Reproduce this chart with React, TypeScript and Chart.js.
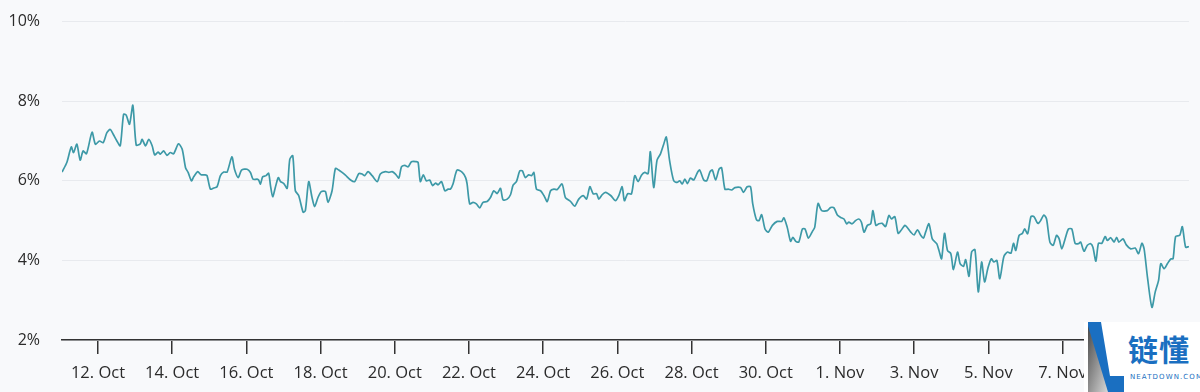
import React, { useEffect, useRef } from "react";
import { Chart, registerables } from "chart.js";

Chart.register(...registerables);

// x values: days since 11 Oct 00:00
const dayOffsets: number[] = [
  0.03, 0.16, 0.28, 0.34, 0.43, 0.52, 0.6, 0.69, 0.84, 0.93, 1.04, 1.14, 1.24, 1.33, 1.41, 1.51, 1.6, 1.69, 1.76, 1.85,
  1.94, 2.03, 2.14, 2.19, 2.28, 2.37, 2.46, 2.53, 2.62, 2.68, 2.77, 2.86, 2.95, 3.04, 3.17, 3.27, 3.36, 3.43, 3.52, 3.58,
  3.69, 3.78, 3.89, 3.94, 4.03, 4.12, 4.21, 4.3, 4.39, 4.48, 4.61, 4.68, 4.78, 4.87, 5.02, 5.11, 5.18, 5.29, 5.33, 5.38,
  5.44, 5.53, 5.6, 5.65, 5.71, 5.78, 5.86, 5.92, 6.01, 6.1, 6.17, 6.25, 6.32, 6.41, 6.53, 6.59, 6.68, 6.77, 6.84, 6.93,
  7.02, 7.13, 7.2, 7.31, 7.4, 7.49, 7.58, 7.67, 7.81, 7.92, 8.03, 8.12, 8.19, 8.28, 8.39, 8.53, 8.61, 8.75, 8.84, 8.93,
  9.02, 9.11, 9.18, 9.27, 9.36, 9.45, 9.58, 9.63, 9.69, 9.77, 9.85, 9.94, 10.02, 10.1, 10.17, 10.26, 10.35, 10.44, 10.5, 10.57,
  10.68, 10.82, 10.91, 10.95, 11.02, 11.11, 11.2, 11.29, 11.38, 11.49, 11.58, 11.67, 11.76, 11.85, 11.92, 12.03, 12.12, 12.19, 12.28, 12.37,
  12.44, 12.52, 12.61, 12.69, 12.75, 12.82, 12.93, 13.02, 13.11, 13.2, 13.29, 13.38, 13.51, 13.6, 13.74, 13.85, 13.96, 14.08, 14.17, 14.26,
  14.35, 14.44, 14.5, 14.59, 14.68, 14.82, 14.95, 15.04, 15.13, 15.19, 15.28, 15.38, 15.47, 15.56, 15.65, 15.74, 15.83, 15.89, 15.98, 16.07,
  16.16, 16.25, 16.32, 16.41, 16.52, 16.61, 16.68, 16.75, 16.82, 16.89, 16.97, 17.06, 17.16, 17.22, 17.33, 17.41, 17.5, 17.56, 17.65, 17.74,
  17.81, 17.9, 17.99, 18.08, 18.17, 18.32, 18.4, 18.5, 18.59, 18.65, 18.75, 18.82, 18.89, 18.98, 19.07, 19.18, 19.31, 19.43, 19.49, 19.58,
  19.67, 19.73, 19.81, 19.89, 19.99, 20.06, 20.15, 20.26, 20.32, 20.41, 20.51, 20.66, 20.75, 20.84, 20.93, 21.02, 21.11, 21.18, 21.24, 21.33,
  21.42, 21.51, 21.58, 21.65, 21.74, 21.83, 21.89, 21.97, 22.05, 22.14, 22.23, 22.32, 22.39, 22.48, 22.57, 22.66, 22.75, 22.82, 22.91, 23.0,
  23.09, 23.18, 23.25, 23.31, 23.4, 23.49, 23.61, 23.67, 23.74, 23.82, 23.9, 23.99, 24.06, 24.17, 24.24, 24.33, 24.39, 24.48, 24.55, 24.64,
  24.73, 24.82, 24.9, 24.99, 25.08, 25.15, 25.23, 25.31, 25.42, 25.52, 25.61, 25.68, 25.74, 25.83, 25.92, 25.98, 26.06, 26.15, 26.23, 26.31,
  26.35, 26.41, 26.5, 26.57, 26.66, 26.75, 26.84, 26.91, 26.98, 27.07, 27.16, 27.25, 27.34, 27.43, 27.49, 27.58, 27.67, 27.76, 27.82, 27.9,
  27.97, 28.06, 28.15, 28.21, 28.3, 28.39, 28.46, 28.52, 28.63, 28.72, 28.84, 28.96, 29.05, 29.14, 29.2, 29.29, 29.41, 29.5, 29.59, 29.65,
  29.74, 29.83, 29.92, 29.98, 30.05, 30.16, 30.23, 30.32, 30.41,
];

// y values: rate in %
const rateValues: number[] = [
  6.22, 6.46, 6.85, 6.71, 6.92, 6.52, 6.75, 6.68, 7.22, 6.92, 7.0, 6.96, 7.21, 7.29, 7.17, 7.0, 6.88, 7.67, 7.65, 7.42,
  7.9, 6.9, 6.93, 7.04, 6.88, 7.04, 6.88, 6.65, 6.72, 6.67, 6.75, 6.64, 6.71, 6.68, 6.93, 6.79, 6.33, 6.21, 6.0, 6.1,
  6.23, 6.15, 6.15, 6.13, 5.79, 5.82, 5.85, 6.13, 6.22, 6.22, 6.6, 6.29, 6.08, 6.27, 6.29, 6.21, 6.04, 6.04, 6.02, 5.92,
  6.1, 6.13, 6.19, 5.88, 5.6, 5.83, 6.08, 5.98, 5.93, 5.81, 6.54, 6.63, 5.75, 5.63, 5.21, 5.25, 5.98, 5.58, 5.35, 5.58,
  5.73, 5.73, 5.46, 5.75, 6.31, 6.27, 6.21, 6.14, 6.02, 5.98, 6.18, 6.17, 6.13, 6.23, 6.13, 5.98, 6.17, 6.23, 6.21, 6.23,
  6.17, 6.07, 6.35, 6.39, 6.35, 6.48, 6.48, 6.46, 5.98, 6.15, 6.0, 6.02, 5.88, 5.94, 5.9, 5.98, 5.75, 5.79, 5.79, 5.92,
  6.27, 6.21, 6.08, 5.92, 5.42, 5.46, 5.42, 5.32, 5.46, 5.48, 5.58, 5.75, 5.68, 5.81, 5.52, 5.54, 5.65, 5.89, 5.98, 6.25,
  6.25, 6.08, 6.15, 6.13, 6.21, 5.79, 5.75, 5.63, 5.48, 5.75, 5.79, 5.78, 5.92, 5.58, 5.48, 5.36, 5.54, 5.63, 5.54, 5.85,
  5.67, 5.68, 5.54, 5.65, 5.71, 5.63, 5.5, 5.63, 5.85, 5.5, 5.68, 5.67, 6.13, 5.98, 6.14, 6.21, 6.18, 6.73, 5.83, 6.52,
  6.67, 6.92, 7.1, 6.5, 6.0, 5.96, 6.0, 5.92, 6.04, 5.93, 6.07, 6.02, 6.21, 6.27, 6.02, 6.0, 6.23, 6.27, 6.02, 6.29,
  6.33, 5.79, 5.79, 5.77, 5.83, 5.83, 5.71, 5.85, 5.85, 5.42, 5.02, 5.0, 5.15, 4.79, 4.71, 4.88, 4.98, 4.98, 5.07, 4.83,
  4.48, 4.58, 4.48, 4.46, 4.79, 4.79, 4.56, 4.73, 4.83, 5.43, 5.25, 5.25, 5.33, 5.32, 5.14, 5.08, 5.04, 4.92, 4.96, 4.92,
  5.0, 5.04, 4.96, 4.71, 4.88, 4.92, 5.25, 4.88, 4.92, 4.93, 4.85, 5.13, 5.04, 5.1, 4.68, 4.77, 4.88, 4.82, 4.71, 4.64,
  4.77, 4.63, 4.56, 4.71, 4.92, 4.54, 4.42, 4.25, 4.04, 4.68, 4.25, 4.17, 3.77, 4.21, 3.92, 3.85, 4.02, 3.6, 4.21, 4.27,
  3.21, 3.96, 3.46, 3.81, 4.04, 3.96, 4.0, 3.54, 4.1, 4.21, 4.18, 4.43, 4.25, 4.63, 4.68, 4.79, 4.67, 5.1, 5.1, 4.96,
  4.93, 5.0, 5.14, 5.04, 4.46, 4.38, 4.63, 4.54, 4.29, 4.54, 4.79, 4.79, 4.43, 4.42, 4.46, 4.23, 4.38, 4.42, 4.33, 3.98,
  4.43, 4.43, 4.6, 4.5, 4.57, 4.46, 4.58, 4.46, 4.54, 4.39, 4.29, 4.31, 4.17, 4.43, 4.29, 3.58, 2.82, 3.21, 3.5, 3.92,
  3.79, 3.92, 4.04, 4.04, 4.6, 4.63, 4.85, 4.33, 4.35,
];

const tickDays: number[] = [1, 3, 5, 7, 9, 11, 13, 15, 17, 19, 21, 23, 25, 27, 29];
const tickLabels: string[] = [
  "12. Oct", "14. Oct", "16. Oct", "18. Oct", "20. Oct", "22. Oct", "24. Oct", "26. Oct",
  "28. Oct", "30. Oct", "1. Nov", "3. Nov", "5. Nov", "7. Nov", "9. Nov",
];
const yMin = 2;
const yMax = 10;
const yStep = 2;

const FONT = "'Open Sans', 'Noto Sans', sans-serif";

export default function App() {
  const ref = useRef<HTMLCanvasElement | null>(null);

  useEffect(() => {
    if (!ref.current) return;
    const points = dayOffsets.map((d, i) => ({ x: d, y: rateValues[i] }));
    const chart = new Chart(ref.current, {
      type: "line",
      data: {
        datasets: [
          {
            data: points,
            borderColor: "#3d99a7",
            borderWidth: 1.7,
            pointRadius: 0,
            pointHoverRadius: 0,
            tension: 0.25,
            fill: false,
          },
        ],
      },
      options: {
        animation: false,
        responsive: false,
        devicePixelRatio: 1,
        layout: { autoPadding: false, padding: { top: 0, right: 11, left: 0, bottom: 0 } },
        plugins: { legend: { display: false }, tooltip: { enabled: false }, title: { display: false } },
        scales: {
          x: {
            type: "linear",
            min: dayOffsets[0],
            max: dayOffsets[dayOffsets.length - 1],
            afterBuildTicks: (scale: any) => {
              scale.ticks = tickDays.map((v) => ({ value: v }));
            },
            afterFit: (scale: any) => {
              scale.height = 52;
            },
            ticks: {
              autoSkip: false,
              maxRotation: 0,
              minRotation: 0,
              padding: 9,
              color: "#2b2b2b",
              font: { family: FONT, size: 16.5 },
              callback: (v: any) => {
                const idx = tickDays.indexOf(Number(v));
                return idx >= 0 ? tickLabels[idx] : "";
              },
            },
            grid: {
              drawOnChartArea: false,
              drawTicks: true,
              tickLength: 14,
              color: "#333333",
              tickColor: "#333333",
              lineWidth: 1.5,
            },
            border: { display: true, color: "#333333", width: 1.5 },
          },
          y: {
            min: yMin,
            max: yMax,
            afterFit: (scale: any) => {
              scale.width = 62;
            },
            ticks: {
              stepSize: yStep,
              padding: 12,
              color: "#2b2b2b",
              font: { family: FONT, size: 16 },
              callback: (v: any) => `${v}%`,
            },
            grid: {
              color: "#e8eaee",
              drawTicks: true,
              tickLength: 10,
              tickColor: "rgba(0,0,0,0)",
              lineWidth: 1,
            },
            border: { display: false },
          },
        },
      },
    });
    return () => chart.destroy();
  }, []);

  return (
    <div
      style={{
        position: "absolute",
        left: 0,
        top: 0,
        width: 1200,
        height: 392,
        background: "#f8f9fb",
        overflow: "hidden",
      }}
    >
      <div style={{ position: "absolute", left: 0, top: 0, width: 1200, height: 392 }}>
        <canvas ref={ref} width={1200} height={392} style={{ display: "block" }} />
      </div>
      <div
        style={{
          position: "absolute",
          left: 1084,
          top: 322,
          width: 116,
          height: 70,
          background: "#ffffff",
        }}
      >
        <svg width={116} height={70} style={{ position: "absolute", left: 0, top: 0 }}>
          <defs>
            <linearGradient id="gr" x1="0" y1="0" x2="1" y2="1">
              <stop offset="0" stopColor="#4a4a4a" />
              <stop offset="1" stopColor="#d8d8d8" />
            </linearGradient>
          </defs>
          <polygon points="4,0 17,0 26,54 40,54 40,70 4,70" fill="#1a6fc1" />
          <polygon points="4,4 4,70 24,70" fill="url(#gr)" />
        </svg>
        <div
          style={{
            position: "absolute",
            left: 44,
            top: 10,
            fontFamily: "'Noto Sans CJK SC', sans-serif",
            fontWeight: 700,
            fontSize: 30,
            lineHeight: "32px",
            color: "#1a6fc1",
            letterSpacing: 1,
          }}
        >
          链懂
        </div>
        <div
          style={{
            position: "absolute",
            left: 46,
            top: 51,
            fontFamily: "'DejaVu Sans', sans-serif",
            fontSize: 7,
            lineHeight: "8px",
            color: "#1a6fc1",
            letterSpacing: 1.1,
            whiteSpace: "nowrap",
          }}
        >
          NEATDOWN.COM
        </div>
      </div>
    </div>
  );
}
